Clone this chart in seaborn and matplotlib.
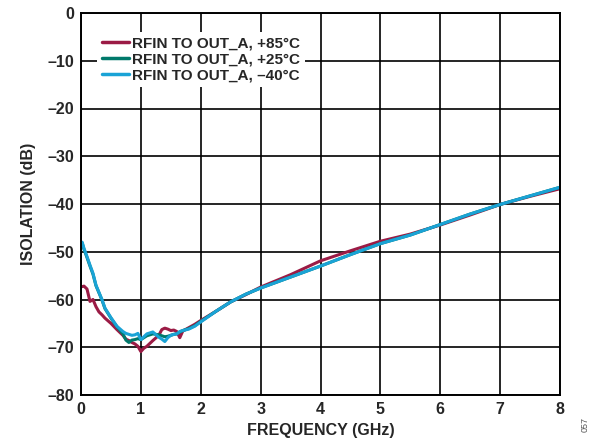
import matplotlib
matplotlib.use("Agg")
import matplotlib.pyplot as plt
import numpy as np
import pandas as pd
import seaborn as sns

# frequency points (GHz)
freq = [0.02, 0.05, 0.1, 0.15, 0.2, 0.25, 0.3, 0.35, 0.4, 0.5, 0.6, 0.7, 0.75, 0.8, 0.85, 0.9, 0.95,
        1.0, 1.05, 1.1, 1.2, 1.3, 1.35, 1.4, 1.45, 1.5, 1.55, 1.6, 1.65, 1.7, 1.8, 1.9, 2.0,
        2.25, 2.5, 2.75, 3.0, 3.5, 4.0, 4.5, 5.0, 5.5, 6.0, 6.5, 7.0, 7.5, 8.0]

# isolation (dB)
iso_85 = [-57.3, -57.2, -57.8, -60.4, -60.0, -61.5, -62.6, -63.2, -63.9, -65.0, -66.3, -67.5, -68.3, -68.6, -69.0, -69.3, -69.8,
          -70.9, -70.2, -69.8, -68.6, -67.5, -66.3, -66.0, -66.2, -66.5, -66.4, -66.7, -68.0, -66.6, -65.9, -65.2, -64.4,
          -62.5, -60.5, -59.0, -57.4, -54.8, -51.9, -49.8, -47.8, -46.3, -44.4, -42.3, -40.1, -38.4, -36.8]
iso_25 = [-48.2, -49.5, -51.2, -53.0, -54.7, -57.1, -58.6, -60.1, -61.9, -63.9, -65.7, -67.2, -68.5, -69.0, -68.5, -68.4, -68.2,
          -68.4, -68.0, -67.6, -67.2, -67.4, -67.6, -67.8, -67.7, -67.5, -67.3, -67.2, -66.8, -66.5, -66.1, -65.5, -64.6,
          -62.5, -60.5, -58.9, -57.6, -55.3, -53.0, -50.6, -48.3, -46.5, -44.3, -42.1, -40.1, -38.3, -36.5]
iso_m40 = [-48.0, -49.3, -51.0, -52.8, -54.5, -57.0, -58.5, -60.0, -61.8, -63.8, -65.6, -66.7, -67.1, -67.3, -67.5, -67.4, -67.1,
           -68.4, -67.8, -67.2, -66.8, -67.9, -68.3, -68.8, -68.0, -67.5, -67.3, -67.2, -66.7, -66.5, -66.2, -65.6, -64.7,
           -62.5, -60.5, -58.9, -57.6, -55.3, -53.0, -50.6, -48.3, -46.5, -44.3, -42.1, -40.1, -38.3, -36.5]

labels = ["RFIN TO OUT_A, +85°C", "RFIN TO OUT_A, +25°C", "RFIN TO OUT_A, \u201340°C"]
colors = ["#9b1b45", "#00796b", "#1aa3d6"]

df = pd.DataFrame({
    "freq": freq * 3,
    "iso": iso_85 + iso_25 + iso_m40,
    "series": [labels[0]] * len(freq) + [labels[1]] * len(freq) + [labels[2]] * len(freq),
})

sns.set_style("white")
plt.rcParams["font.family"] = ["Liberation Sans", "DejaVu Sans"]
plt.rcParams["font.weight"] = "bold"

fig = plt.figure(figsize=(5.92, 4.47), dpi=100)
ax = fig.add_axes([81 / 592, 1 - 395 / 447, 479 / 592, 382 / 447])

sns.lineplot(data=df, x="freq", y="iso", hue="series", hue_order=labels,
             palette=colors, linewidth=2.2, sort=False, ax=ax)

ax.set_xlim(0, 8)
ax.set_ylim(-80, 0)
ax.set_xticks(range(0, 9))
ax.set_yticks(range(-80, 1, 10))
ax.set_yticklabels([str(v).replace("-", "\u2013") for v in range(-80, 1, 10)])
ax.grid(True, color="black", linewidth=1.2)
ax.set_axisbelow(True)
for s in ax.spines.values():
    s.set_color("black")
    s.set_linewidth(1.4)
ax.tick_params(length=0, labelsize=11.5, pad=5)
for t in ax.get_xticklabels() + ax.get_yticklabels():
    t.set_fontweight("bold")

ax.set_xlabel("FREQUENCY (GHz)", fontsize=11.5, fontweight="bold", labelpad=4)
ax.set_ylabel("ISOLATION (dB)", fontsize=11.5, fontweight="bold", labelpad=8)

leg = ax.legend(loc="upper left", bbox_to_anchor=(0.0334, 0.950), frameon=True,
                handlelength=1.8, handletextpad=0.2, labelspacing=0.12,
                borderpad=0.3, borderaxespad=0, prop={"weight": "bold", "size": 11})
leg.get_frame().set_facecolor("white")
leg.get_frame().set_edgecolor("none")
leg.get_frame().set_alpha(1)
leg.get_frame().set_boxstyle("square", pad=0)
for line in leg.get_lines():
    line.set_linewidth(2.5)

fig.text(585 / 592, 1 - 425 / 447, "057", rotation=90, fontsize=6.5, color="#555555",
         fontweight="normal", ha="center", va="center")

fig.savefig("out.png", dpi=100)
